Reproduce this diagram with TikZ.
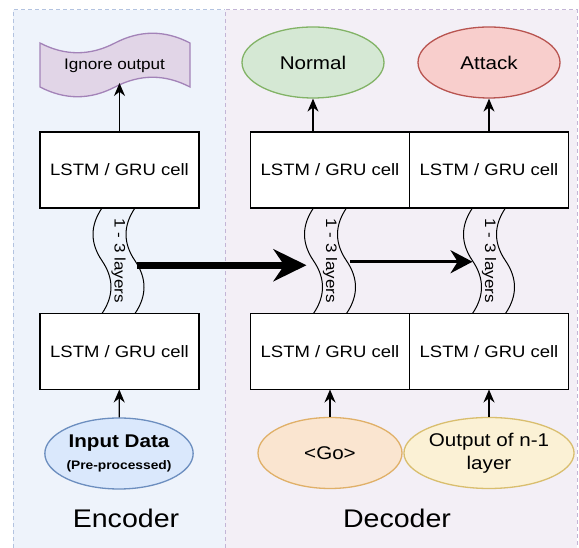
\documentclass[tikz,border=0pt]{standalone}
\usepackage{fontspec}
\setmainfont{Liberation Sans}[FakeStretch=1.12]
\usetikzlibrary{shapes.geometric,arrows.meta}

\definecolor{encbg}{HTML}{EEF3FB}
\definecolor{encline}{HTML}{B3C3E0}
\definecolor{decbg}{HTML}{F3EFF6}
\definecolor{decline}{HTML}{C3B5D6}
\definecolor{nrmfill}{HTML}{D5E8D4}
\definecolor{nrmline}{HTML}{82B366}
\definecolor{attfill}{HTML}{F8CECC}
\definecolor{attline}{HTML}{B85450}
\definecolor{infill}{HTML}{DAE8FC}
\definecolor{inline}{HTML}{6C8EBF}
\definecolor{gofill}{HTML}{FAE5D0}
\definecolor{goline}{HTML}{E0B068}
\definecolor{outfill}{HTML}{FBF1D5}
\definecolor{outline}{HTML}{D9BE6E}
\definecolor{ignfill}{HTML}{E1D5E7}
\definecolor{ignline}{HTML}{A383B8}

\begin{document}
\begin{tikzpicture}[x=1pt,y=1pt]
        \tikzset{cell/.style={rectangle, draw=black, fill=white, line width=1.3pt, minimum width=159pt, minimum height=76pt, inner sep=0pt, outer sep=0pt, font=\fontsize{16.5}{19}\selectfont}}
        \tikzset{oval/.style={ellipse, line width=1.3pt, minimum width=142pt, minimum height=71pt, inner sep=0pt, align=center, font=\fontsize{18.4}{23}\selectfont}}
        \tikzset{band/.style={rectangle, minimum width=33pt, minimum height=105.5pt, inner sep=0pt, outer sep=0pt}}
        \tikzset{layers/.style={rotate=-90, inner sep=0pt, font=\fontsize{15.2}{17}\selectfont}}
        \tikzset{wave/.style={line width=1pt}}
        \tikzset{uparrow/.style={line width=1.3pt, -{Stealth[length=13pt,width=11pt]}}}

        \useasboundingbox (0,0) rectangle (579,548);

	%---PANELS---
        \fill[encbg] (13,0) rectangle (225,538);
        \fill[decbg] (225,0) rectangle (577,538);
        \draw[encline, dashed, line width=1pt, dash pattern=on 4pt off 3pt] (13,0) -- (13,538) -- (225,538);
        \draw[decline, dashed, line width=1pt, dash pattern=on 4pt off 3pt] (225,0) -- (225,538) -- (577,538) -- (577,0);

	%---NODES---
        \node[cell] (enc1) at (119.5,196.5) {LSTM / GRU cell};
        \node[cell] (enc2) at (119.5,378) {LSTM / GRU cell};
        \node[cell] (dec1) at (330,196.5) {LSTM / GRU cell};
        \node[cell] (dec2) at (330,378) {LSTM / GRU cell};
        \node[cell] (dec3) at (489,196.5) {LSTM / GRU cell};
        \node[cell] (dec4) at (489,378) {LSTM / GRU cell};

        \node[band] (b1) at (118.5,287.25) {};
        \node[band] (b2) at (330,287.25) {};
        \node[band] (b3) at (489,287.25) {};
        \node[layers] (l1) at (b1) {1 - 3 layers};
        \node[layers] (l2) at (b2) {1 - 3 layers};
        \node[layers] (l3) at (b3) {1 - 3 layers};

        \node[oval, draw=inline, fill=infill] (in) at (119,94.5) {\bfseries Input Data\\[-1pt]{\fontsize{12.3}{14}\bfseries (Pre-processed)}};
        \node[oval, draw=goline, fill=gofill, minimum width=144pt] (go) at (330,95) {<Go>};
        \node[oval, draw=outline, fill=outfill, minimum width=141pt] (prev) at (489,95) {Output of n-1\\layer};

        \node[oval, draw=nrmline, fill=nrmfill] (nrm) at (313,485.5) {Normal};
        \node[oval, draw=attline, fill=attfill] (att) at (489,485.5) {Attack};

        \node[minimum width=150pt, minimum height=44pt, inner sep=0pt, outer sep=0pt] (ign) at (115,483) {};
        \draw[draw=ignline, fill=ignfill, line width=1.3pt] (ign.north west) .. controls +(25,-13) and +(-25,-13) .. (ign.north) .. controls +(25,13) and +(-25,13) .. (ign.north east) -- (ign.south east) .. controls +(-25,13) and +(25,13) .. (ign.south) .. controls +(-25,-13) and +(25,-13) .. (ign.south west) -- cycle;
        \node[font=\fontsize{15.3}{18}\selectfont] (igntxt) at (114.5,482) {Ignore output};
        \coordinate (ignin) at (119.5,465);

	%---EDGES---
        \draw[wave] (b1.north west) .. controls +(-12,-17.6) and +(-12,17.6) .. (b1.west) .. controls +(12,-17.6) and +(12,17.6) .. (b1.south west);
        \draw[wave] (b1.north east) .. controls +(-12,-17.6) and +(-12,17.6) .. (b1.east) .. controls +(12,-17.6) and +(12,17.6) .. (b1.south east);
        \draw[wave] (b2.north west) .. controls +(-12,-17.6) and +(-12,17.6) .. (b2.west) .. controls +(12,-17.6) and +(12,17.6) .. (b2.south west);
        \draw[wave] (b2.north east) .. controls +(-12,-17.6) and +(-12,17.6) .. (b2.east) .. controls +(12,-17.6) and +(12,17.6) .. (b2.south east);
        \draw[wave] (b3.north west) .. controls +(-12,-17.6) and +(-12,17.6) .. (b3.west) .. controls +(12,-17.6) and +(12,17.6) .. (b3.south west);
        \draw[wave] (b3.north east) .. controls +(-12,-17.6) and +(-12,17.6) .. (b3.east) .. controls +(12,-17.6) and +(12,17.6) .. (b3.south east);

        \draw[line width=7pt, -{Stealth[length=33pt,width=32pt]}] ([xshift=2pt,yshift=-4.5pt]b1.east) -- ([xshift=-7pt,yshift=-4.5pt]b2.west);
        \draw[line width=2.8pt, -{Stealth[length=22pt,width=23pt]}] ([xshift=3.5pt,yshift=-1pt]b2.east) -- ([yshift=-1pt]b3.west);

        \draw[uparrow] (in) -- (enc1);
        \draw[uparrow] (go) -- (dec1);
        \draw[uparrow] (prev) -- (dec3);
        \draw[uparrow] (enc2) -- (ignin);
        \draw[uparrow] (nrm.south |- dec2.north) -- (nrm);
        \draw[uparrow] (dec4) -- (att);

	%---LABELS---
        \node[font=\fontsize{25.5}{30}\selectfont] (enclab) at (126,30) {Encoder};
        \node[font=\fontsize{25.5}{30}\selectfont] (declab) at (397,30) {Decoder};

\end{tikzpicture}
\end{document}
